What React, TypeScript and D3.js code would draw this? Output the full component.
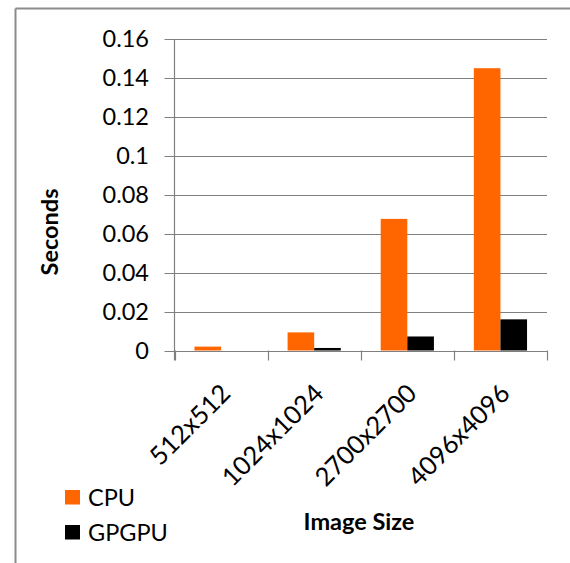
import React from "react";
import * as d3 from "d3";

const categories = ["512x512", "1024x1024", "2700x2700", "4096x4096"];
const seriesNames = ["CPU", "GPGPU"];
const cpuValues = [0.002, 0.0093, 0.0676, 0.145];
const gpgpuValues = [0, 0.0013, 0.0072, 0.016];
const yTicks = [0, 0.02, 0.04, 0.06, 0.08, 0.1, 0.12, 0.14, 0.16];
const colors = ["#FF6600", "#000000"];

const W = 570;
const H = 563;
const left = 174.5;
const right = 547;
const top = 39;
const bottom = 350.5;
const font = "Lato, 'Open Sans', sans-serif";

export default function App() {
  const x = d3.scaleBand<string>().domain(categories).range([left, right]).padding(0);
  const inner = d3
    .scaleBand<string>()
    .domain(seriesNames)
    .range([0, x.bandwidth()])
    .paddingInner(0)
    .paddingOuter(0.75);
  const y = d3.scaleLinear().domain([0, 0.16]).range([bottom, top]);
  const values = [cpuValues, gpgpuValues];
  const fmt = (v: number) => (v === 0 ? "0" : String(+v.toFixed(2)));
  const boundaries = [...categories.map((c) => x(c) as number), right];

  return (
    <svg
      width={W}
      height={H}
      style={{ position: "absolute", left: 0, top: 0, background: "#fff" }}
      fontFamily={font}
    >
      <rect x={0} y={0} width={W} height={H} fill="#fff" />
      <line x1={15.5} y1={8.5} x2={W} y2={8.5} stroke="#8c8c8c" strokeWidth={2} />
      <line x1={15.5} y1={8.5} x2={15.5} y2={H} stroke="#8c8c8c" strokeWidth={2} />

      {yTicks.map((t) => (
        <g key={t}>
          <line x1={164.5} x2={right} y1={Math.round(y(t)) + 0.5} y2={Math.round(y(t)) + 0.5} stroke="#808080" strokeWidth={1.2} />
          <text
            x={149}
            y={y(t)}
            dy="0.36em"
            textAnchor="end"
            fontSize={23.5}
            fill="#000"
          >
            {fmt(t)}
          </text>
        </g>
      ))}

      <line x1={left} x2={left} y1={top} y2={bottom + 10} stroke="#808080" strokeWidth={1.2} />
      {boundaries.map((b, i) => (
        <line key={i} x1={Math.round(b) + 0.5} x2={Math.round(b) + 0.5} y1={bottom} y2={bottom + 10} stroke="#808080" strokeWidth={1.2} />
      ))}

      {categories.map((c, ci) =>
        seriesNames.map((s, si) => {
          const v = values[si][ci];
          const bx = (x(c) as number) + (inner(s) as number);
          return (
            <rect
              key={c + s}
              x={bx}
              y={y(v)}
              width={inner.bandwidth()}
              height={bottom - y(v)}
              fill={colors[si]}
            />
          );
        })
      )}

      {categories.map((c) => {
        const cx = (x(c) as number) + x.bandwidth() / 2;
        const ax = cx + 11;
        const ay = 395;
        return (
          <text
            key={c}
            transform={`translate(${ax},${ay}) rotate(-45)`}
            textAnchor="end"
            fontSize={25.5}
            fill="#000"
          >
            {c}
          </text>
        );
      })}

      <text
        transform={`translate(58,232) rotate(-90)`}
        textAnchor="middle"
        fontSize={23.5}
        fontWeight="bold"
        fill="#000"
      >
        Seconds
      </text>

      <text x={359} y={530} textAnchor="middle" fontSize={23.5} fontWeight="bold" fill="#000">
        Image Size
      </text>

      {seriesNames.map((s, i) => (
        <g key={s} transform={`translate(65,${490 + i * 35})`}>
          <rect x={0} y={0} width={15} height={14.5} fill={colors[i]} />
          <text x={23} y={7.5} dy="0.36em" fontSize={23.5} fill="#000">
            {s}
          </text>
        </g>
      ))}
    </svg>
  );
}
